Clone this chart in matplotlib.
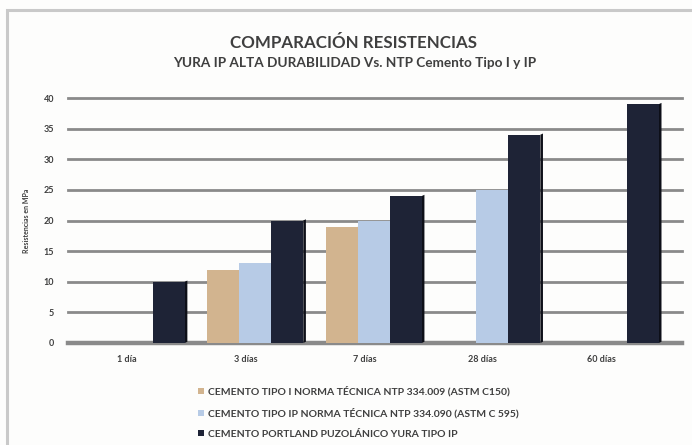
import matplotlib
matplotlib.use("Agg")
import matplotlib.pyplot as plt
from matplotlib.patches import Polygon, Rectangle
import numpy as np

# data
categories = ["1 día", "3 días", "7 días", "28 días", "60 días"]
tipo_i = [0, 12, 19, 0, 0]
tipo_ip = [0, 13, 20, 25, 0]
yura_ip = [10, 20, 24, 34, 39]
series_labels = [
    "CEMENTO TIPO I NORMA TÉCNICA NTP 334.009 (ASTM C150)",
    "CEMENTO TIPO IP NORMA TÉCNICA NTP 334.090 (ASTM C 595)",
    "CEMENTO PORTLAND PUZOLÁNICO YURA TIPO IP",
]
yticks = [0, 5, 10, 15, 20, 25, 30, 35, 40]

colors = ["#d2b48f", "#b7cbe6", "#1e2336"]
side_colors = ["#a88c6a", "#8ea4c2", "#0d0f18"]

plt.rcParams['font.family'] = ['Lato', 'DejaVu Sans']

fig = plt.figure(figsize=(6.92, 4.45), dpi=100)
fig.patch.set_facecolor('#fdfdfc')

# outer frame of the original picture
fig.patches.append(Rectangle((7 / 692, -0.05), 1.2, 1 - 10 / 445 + 0.05,
                             transform=fig.transFigure, fill=False,
                             edgecolor='#c9c9c9', linewidth=2.2))

fig.text(354 / 692, 1 - 43 / 445, "COMPARACIÓN RESISTENCIAS", ha='center', va='center',
         fontsize=12.2, fontweight='bold', color='#3f3f3f')
fig.text(355 / 692, 1 - 63 / 445, "YURA IP ALTA DURABILIDAD Vs. NTP Cemento Tipo I y IP",
         ha='center', va='center', fontsize=9.8, fontweight='bold', color='#3f3f3f')

ax = fig.add_axes([68 / 692, 1 - 343 / 445, (682 - 68) / 692, (343 - 98) / 445])
ax.set_facecolor('none')
ax.set_xlim(-0.5, 4.68)
ax.set_ylim(0, 40)

x = np.arange(len(categories))
w = 0.27
dx, dy = 0.055, 0.5
all_series = [tipo_i, tipo_ip, yura_ip]

for yv in yticks:
    ax.axhline(yv, color='#8a8a8a', linewidth=2 if yv else 3.2, zorder=1, clip_on=False)

for i, vals in enumerate(all_series):
    pos = x + (i - 1) * w + 0.08
    for xc, v in zip(pos, vals):
        if v <= 0:
            continue
        r = xc + w / 2
        ax.add_patch(Polygon([(r, 0), (r + dx * 0.4, dy * 0.4), (r + dx * 0.4, v + dy * 0.4), (r, v)],
                             closed=True, facecolor=side_colors[i], edgecolor='none', zorder=2))
    ax.bar(pos, vals, width=w, color=colors[i], label=series_labels[i], zorder=3)

ax.set_xticks(x + 0.0)
ax.set_xticklabels(categories)
ax.set_yticks(yticks)
ax.tick_params(axis='both', length=0, labelsize=6.5, labelcolor='#3f3f3f')
ax.tick_params(axis='x', pad=9)
ax.tick_params(axis='y', pad=10)
for lab in ax.get_xticklabels() + ax.get_yticklabels():
    lab.set_fontweight('bold')
for s in ax.spines.values():
    s.set_visible(False)

ax.set_ylabel("Resistencias en MPa", fontsize=5, color='#3f3f3f', fontweight='bold', labelpad=10)

handles, labels = ax.get_legend_handles_labels()
leg = fig.legend(handles, labels, loc='upper left', bbox_to_anchor=(194 / 692, 1 - 382 / 445),
                 frameon=False, fontsize=7.5, handlelength=0.55, handleheight=0.55,
                 handletextpad=0.4, labelspacing=1.08, borderaxespad=0)
for t in leg.get_texts():
    t.set_color('#3f3f3f')
    t.set_fontweight('bold')

fig.savefig("out.png", dpi=100, facecolor=fig.get_facecolor())
